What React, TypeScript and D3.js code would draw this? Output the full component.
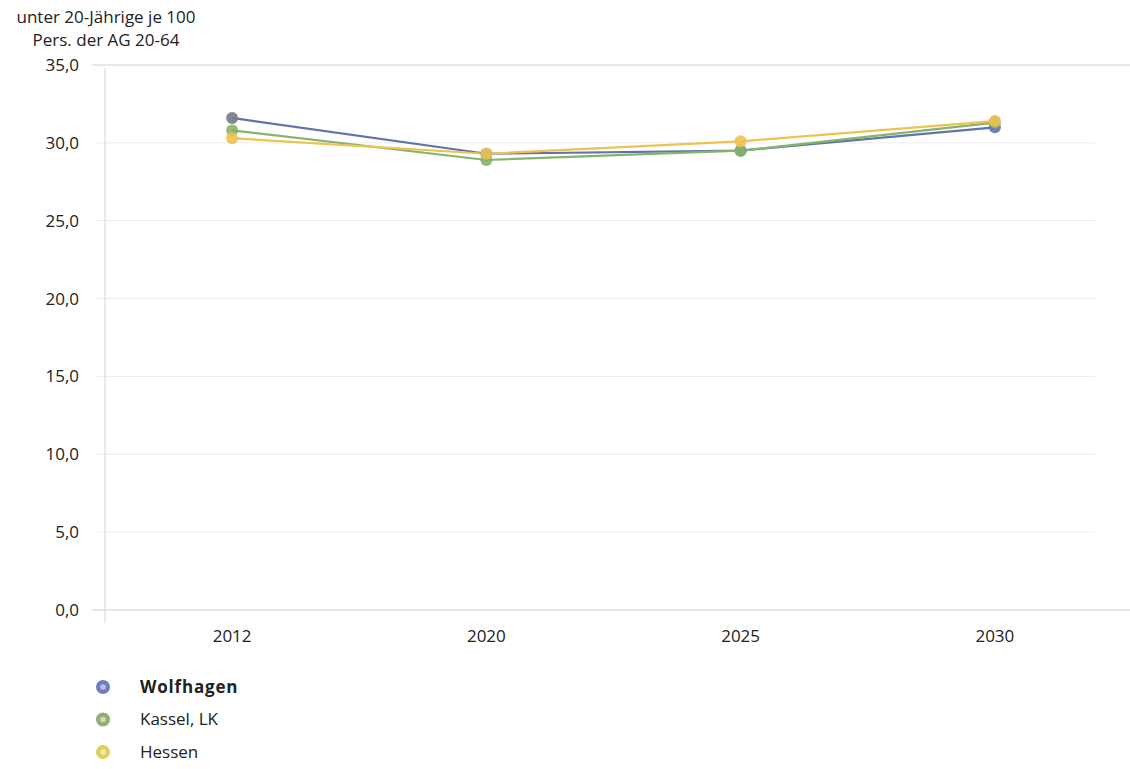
import React from "react";
import * as d3 from "d3";

const years = ["2012", "2020", "2025", "2030"];
const wolfhagen = [31.6, 29.3, 29.5, 31.0];
const kassel = [30.8, 28.9, 29.5, 31.3];
const hessen = [30.3, 29.3, 30.1, 31.4];
const yTicks = [0, 5, 10, 15, 20, 25, 30, 35];

const seriesNames = ["Wolfhagen", "Kassel, LK", "Hessen"];
const seriesColors = ["#6472ab", "#86b46a", "#eec24e"];
const legendColors = ["#6f7cc0", "#8fae78", "#ddd15a"];

const W = 1130;
const H = 769;

export default function App() {
  const x = d3.scaleBand<string>().domain(years).range([105, 1122]);
  const y = d3.scaleLinear().domain([0, 35]).range([610, 65]);
  const fmt = (v: number) => v.toFixed(1).replace(".", ",");
  const cx = (i: number) => (x(years[i]) as number) + x.bandwidth() / 2;
  const line = d3
    .line<number>()
    .x((_, i) => cx(i))
    .y((d) => y(d));
  const allSeries = [wolfhagen, kassel, hessen];
  const font = "'Open Sans', 'Noto Sans', sans-serif";

  return (
    <svg
      width={W}
      height={H}
      style={{ position: "absolute", left: 0, top: 0, background: "#fff" }}
      fontFamily={font}
    >
      <rect x={0} y={0} width={W} height={H} fill="#fff" />
      {/* axis title */}
      <text x={106} y={23} textAnchor="middle" fontSize={17} fill="#222">
        unter 20-Jährige je 100
      </text>
      <text x={106} y={46} textAnchor="middle" fontSize={17} fill="#222">
        Pers. der AG 20-64
      </text>

      {/* grid lines and y tick labels */}
      {yTicks.map((t) => {
        const edge = t === 0 || t === 35;
        return (
          <g key={t}>
            <line
              x1={edge ? 92 : 97}
              x2={edge ? 1130 : 1095}
              y1={y(t)}
              y2={y(t)}
              stroke={edge ? "#cfcfcf" : "#ececec"}
              strokeWidth={1}
            />
            <text
              x={79}
              y={y(t) + 6}
              textAnchor="end"
              fontSize={17}
              fill="#222"
            >
              {fmt(t)}
            </text>
          </g>
        );
      })}
      {/* vertical axis */}
      <line x1={105} x2={105} y1={68} y2={623} stroke="#d4d4d4" strokeWidth={1} />

      {/* x tick labels */}
      {years.map((yr, i) => (
        <text
          key={yr}
          x={cx(i)}
          y={642}
          textAnchor="middle"
          fontSize={17}
          fill="#222"
        >
          {yr}
        </text>
      ))}

      {/* series lines */}
      {allSeries.map((s, i) => (
        <path
          key={seriesNames[i]}
          d={line(s) || ""}
          fill="none"
          stroke={seriesColors[i]}
          strokeWidth={2.2}
        />
      ))}
      {/* series markers */}
      {allSeries.map((s, i) => (
        <g key={seriesNames[i] + "-m"}>
          {s.map((v, j) => (
            <circle
              key={j}
              cx={cx(j)}
              cy={y(v)}
              r={6}
              fill={i === 0 && j === 0 ? "#777b86" : seriesColors[i]}
              opacity={0.9}
            />
          ))}
        </g>
      ))}

      {/* legend */}
      {seriesNames.map((n, i) => (
        <g key={n} transform={`translate(103, ${687 + i * 32.5})`}>
          <circle r={7} fill={legendColors[i]} />
          <circle r={2.8} fill="#fff" opacity={0.55} />
          <text
            x={37}
            y={5.5}
            fontSize={17}
            fill="#222"
            fontWeight={i === 0 ? "bold" : "normal"}
            letterSpacing={i === 0 ? 0.8 : 0}
          >
            {n}
          </text>
        </g>
      ))}
    </svg>
  );
}
